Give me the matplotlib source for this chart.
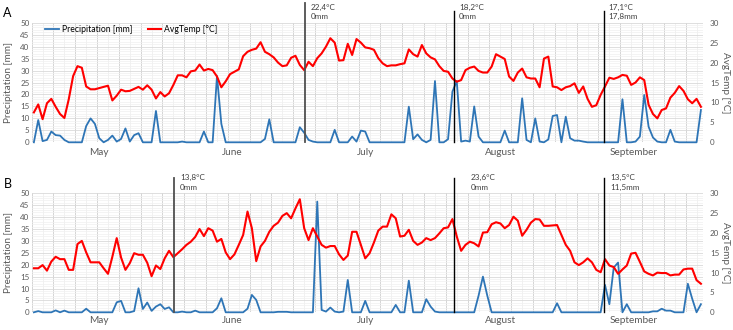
"""
@ Daily precipitation and mean air temperature, May - September
@ panel A / panel B, sampling dates marked with vertical lines
"""

import numpy as np
import pandas as pd
from matplotlib import pylab as plt
from matplotlib import transforms

plt.rcParams['font.family'] = ['Lato', 'DejaVu Sans']

# #
# @ data (one value per day, 1 May .. 1 Oct)
# #
precipA = [
    0, 9.3, 0.5, 1, 4.5, 3, 2.8, 1, 0, 0,
    0, 0, 6.8, 10, 7.7, 1.7, 0, 1, 2.8, 0.3,
    1.4, 5.8, 0.3, 3, 3.8, 0, 0, 0, 13.1, 0,
    0, 0, 0, 0, 0.3, 0, 0, 0, 0, 4.5,
    0, 0, 27.7, 7.7, 0, 0, 0, 0, 0,
    0, 0, 0, 0, 1.4, 9.6, 0, 0, 0, 0,
    0, 0, 6.3, 4.0, 1, 0.3, 0, 0, 0, 0,
    5.2, 0, 0, 0, 2.4, 0.3, 4.9, 4.5, 0, 0,
    0, 0, 0, 0, 0, 0, 0, 14.9, 1.3, 3.3,
    1, 0, 1, 25.6, 0, 0, 1.3, 21.2, 25.6, 0.3,
    0.7, 0.3, 15, 2.4,
    0, 0, 0, 0, 0, 4.9, 0, 0, 0, 18.4,
    1, 0, 10, 0.3, 0, 1.2, 11, 11.4, 0, 10.7,
    1.7, 0.7, 0.7, 0.3, 0, 0, 0, 0, 0, 0,
    0, 0, 18, 0, 0, 0.3, 2.4, 19.8, 6.5, 2,
    0.3, 0, 0, 5.2, 0.3, 0, 0, 0, 0, 0,
    13.5,
]
tempA = [
    7.5, 9.5, 5.8, 9.8, 10.9, 8.9, 7.1, 6.1, 10.8, 16.6,
    19.1, 18.7, 14.0, 13.3, 13.3, 13.6, 13.9, 14.2, 10.5, 11.7,
    13.2, 12.8, 12.9, 13.4, 13.9, 13.2, 14.3, 13.2, 11.0, 12.6,
    11.5, 12.3, 14.4, 16.8, 16.8, 16.3, 17.8, 18.0, 19.5, 18.0,
    18.4, 18.1, 16.5, 13.8, 15.3, 17.1, 17.7, 18.3, 21.6,
    22.7, 23.2, 23.5, 25.1, 22.7, 22.1, 21.3, 20.0, 19.1, 19.3,
    21.2, 21.7, 19.4, 18.1, 20.2, 19.1, 21.1, 22.3, 24.0, 26.1,
    25.0, 20.5, 20.6, 24.7, 21.9, 25.9, 25.0, 23.8, 23.6, 23.2,
    21.1, 19.8, 19.1, 19.3, 19.3, 19.6, 19.8, 23.3, 22.1, 21.5,
    24.4, 22.3, 21.3, 20.8, 19.1, 17.9, 17.7, 16.0, 15.2, 15.6,
    18.1, 18.7, 19.0, 17.9,
    17.5, 17.5, 19.0, 22.1, 21.5, 20.9, 16.5, 15.4, 17.5, 18.5,
    16.3, 16.0, 16.0, 13.8, 21.0, 21.5, 14.0, 13.8, 13.1, 13.8,
    14.1, 14.8, 12.4, 14.0, 10.9, 8.9, 9.3, 11.9, 14.0, 16.2,
    15.9, 16.3, 16.9, 16.7, 14.4, 15.0, 16.3, 15.6, 9.4, 7.1,
    6.0, 8.1, 8.5, 11.2, 12.4, 14.1, 12.9, 10.8, 9.8, 10.9,
    8.9,
]
precipB = [
    0, 0.5, 0, 0, 0, 0.8, 0, 0.7, 0, 0,
    0, 0, 1.5, 0, 0, 0, 0, 0, 0, 4.2,
    4.8, 0, 0, 0.5, 10.1, 1.4, 4.1, 0.6, 2.4, 3.4,
    1.4, 2.1, 0, 0, 0.3, 0, 0, 0.7, 0, 0,
    0, 0, 1.7, 5.9, 0, 0, 0,
    0, 0, 1.5, 7.3, 5.2, 0, 0, 0, 0, 0.2,
    0.2, 0.2, 0, 0, 0, 0, 0, 0, 46.5, 1,
    0.3, 2, 0.3, 0, 0.3, 13.6, 0, 0, 0, 4.8,
    0, 0, 0, 0, 0, 0, 3.1, 0, 0, 13.3,
    0, 0, 0, 5.5, 2.4, 0.3, 0, 0, 0, 0,
    0, 0, 0, 0, 0,
    7, 15, 7, 0, 0, 0, 0, 0, 0, 0,
    0, 0, 0, 0, 0, 0, 0, 0, 3.8, 0,
    0, 0, 0, 0, 0, 0, 0, 0, 0, 11.5,
    3.4, 18.8, 20.9, 0, 3.4, 0, 0, 0, 0, 0,
    0.4, 0.4, 1.5, 0.7, 0.7, 0, 0, 0, 12, 5.7,
    0, 3.4,
]
tempB = [
    11.1, 11.1, 11.9, 10.5, 12.8, 14.0, 13.4, 13.4, 10.7, 10.7,
    17.2, 18.0, 15.1, 12.6, 12.6, 12.6, 11.1, 9.7, 14.0, 18.7,
    13.8, 10.7, 12.4, 14.9, 14.5, 14.5, 12.5, 9.1, 11.8, 10.9,
    13.6, 15.5, 13.9, 14.9, 15.9, 17.0, 17.8, 19.0, 21.0, 19.2,
    21.2, 20.6, 17.8, 18.5, 15.1, 13.4, 14.6,
    17.0, 19.5, 25.4, 21.2, 12.9, 16.6, 18.0, 20.3, 21.8, 22.6,
    24.3, 25.0, 23.7, 26.2, 28.5, 21.2, 18.2, 21.2, 19.1, 17.0,
    16.3, 16.7, 16.7, 14.6, 13.2, 14.3, 20.3, 20.3, 17.0, 13.6,
    14.9, 17.6, 20.6, 21.6, 21.6, 24.7, 23.7, 19.1, 19.3, 20.8,
    18.0, 17.0, 17.6, 18.7, 18.2, 18.7, 19.9, 21.2, 21.4, 23.5,
    19.1, 15.5, 17.0, 17.8, 17.4,
    16.6, 20.1, 20.2, 22.2, 22.7, 22.4, 21.2, 22.0, 24.1, 23.1,
    19.3, 20.8, 22.6, 23.5, 23.4, 21.8, 21.8, 21.9, 22.0, 19.5,
    17.0, 15.5, 12.6, 11.9, 12.6, 13.6, 12.6, 10.7, 10.1,
    13.4, 11.8, 11.4, 9.7, 10.8, 11.8, 14.8, 15.0, 12.7, 10.3,
    9.7, 9.3, 10.0, 9.9, 9.9, 9.3, 9.5, 9.5, 10.8, 11.0,
    11.0, 8.1, 7.2,
]

# sampling dates (day index from 1 May) and their labels
markerDaysA = [62.3, 96.4, 130.8]
markerTextA = [('22,4°C', '0mm'), ('18,2°C', '0mm'), ('17,1°C', '17,8mm')]
markerDaysB = [32.1, 96.4, 130.8]
markerTextB = [('13,8°C', '0mm'), ('23,6°C', '0mm'), ('13,5°C', '11,5mm')]

monthNames = ['May', 'June', 'July', 'August', 'September']

BLUE = '#2e75b6'
RED = '#ff0000'
GREY = '#595959'

dates = pd.date_range('2018-05-01', periods=len(precipA), freq='D')
dayIndex = np.arange(len(dates))


# #
# @ def drawPanel(...)
# @ one panel: precipitation on left axis, temperature on twin right axis
# #
def drawPanel(ax, precip, temp, markerDays, markerText, markerTops, markerStyle,
              textDx, textDy, monthDy):
    ax2 = ax.twinx()
    lineP, = ax.plot(dayIndex, precip, color=BLUE, lw=1.3, clip_on=False,
                     zorder=3, label='Precipitation [mm]')
    lineT, = ax2.plot(dayIndex, temp, color=RED, lw=1.5, clip_on=False,
                      zorder=3, label='AvgTemp [°C]')

    ax.set_xlim(-0.5, len(dayIndex) - 0.5)
    ax.set_ylim(0, 50)
    ax2.set_ylim(0, 30)

    ax.set_yticks(np.arange(0, 51, 5))
    ax.set_yticks(np.arange(0, 51, 1), minor=True)
    ax2.set_yticks(np.arange(0, 31, 5))
    ax.set_xticks(np.arange(-0.5, len(dayIndex), 5))
    ax.set_xticks(np.arange(2.0, len(dayIndex), 5), minor=True)

    ax.set_axisbelow(True)
    ax.yaxis.grid(True, which='major', color='#d9d9d9', lw=0.6)
    ax.yaxis.grid(True, which='minor', color='#f0f0f0', lw=0.5)
    ax.xaxis.grid(True, which='major', color='#d4d4d4', lw=0.7)
    ax.xaxis.grid(True, which='minor', color='#ececec', lw=0.5)

    ax.tick_params(axis='both', which='both', length=0)
    ax.tick_params(axis='x', labelbottom=False)
    ax.tick_params(axis='y', labelsize=5.8, labelcolor=GREY, pad=1.5)
    ax2.tick_params(axis='y', length=0, labelsize=5.8, labelcolor=GREY, pad=5)
    for a in (ax, ax2):
        for s in a.spines.values():
            s.set_visible(False)

    # month names under the middle of each month
    trans = transforms.blended_transform_factory(ax.transData, ax.transAxes)
    for m, name in zip(range(5, 10), monthNames):
        centre = dayIndex[dates.month == m].mean()
        ax.text(centre, monthDy, name, transform=trans, ha='center',
                va='center', fontsize=7.2, color=GREY)

    # sampling dates
    for k, mx in enumerate(markerDays):
        col, lw = markerStyle[k]
        ax2.axvline(mx, ymin=0, ymax=markerTops[k], color=col, lw=lw,
                    clip_on=False, zorder=5)
        for line, dy in zip(markerText[k], textDy):
            ax2.annotate(line, xy=(mx, 1.0), xycoords=('data', 'axes fraction'),
                         xytext=(textDx[k], dy), textcoords='offset points',
                         ha='left', va='center', fontsize=5.9, color='#404040',
                         annotation_clip=False)
    return lineP, lineT


fig = plt.figure(figsize=(7.33, 3.30), dpi=100)
axA = fig.add_axes([31.7 / 733, 1 - 142.3 / 330, 671.4 / 733, 119.6 / 330])
axB = fig.add_axes([31.7 / 733, 1 - 312.3 / 330, 671.4 / 733, 119.0 / 330])

lineP, lineT = drawPanel(axA, precipA, tempA, markerDaysA, markerTextA,
                         [1.167, 1.098, 1.098],
                         [('#505050', 1.3), ('black', 1.0), ('black', 1.0)],
                         [3.8, 3.4, 2.9], [11.3, 4.5], -10.4 / 119.6)
drawPanel(axB, precipB, tempB, markerDaysB, markerTextB,
          [1.13, 1.13, 1.13],
          [('#505050', 1.3), ('black', 1.0), ('black', 1.0)],
          [4.5, 12.0, 4.5], [11.4, 4.2], -8.4 / 119.0)

axA.legend([lineP, lineT], ['Precipitation [mm]', 'AvgTemp [°C]'],
           loc='center left', bbox_to_anchor=(0.0198, 0.945), ncol=2,
           frameon=False, fontsize=6.2, borderpad=0, borderaxespad=0,
           handlelength=1.6, handletextpad=0.35, columnspacing=1.8)

# axis titles and panel letters
for yc in (82.5, 252.8):
    fig.text(9 / 733, 1 - yc / 330, 'Precipitation [mm]', rotation=90,
             ha='center', va='center', fontsize=7.2, color=GREY)
    fig.text(725.5 / 733, 1 - yc / 330, 'AvgTemp [°C]', rotation=270,
             ha='center', va='center', fontsize=7.2, color=GREY)
fig.text(7 / 733, 1 - 13 / 330, 'A', ha='center', va='center', fontsize=9)
fig.text(7.5 / 733, 1 - 183.5 / 330, 'B', ha='center', va='center', fontsize=9)

fig.savefig('out.png', dpi=100)
